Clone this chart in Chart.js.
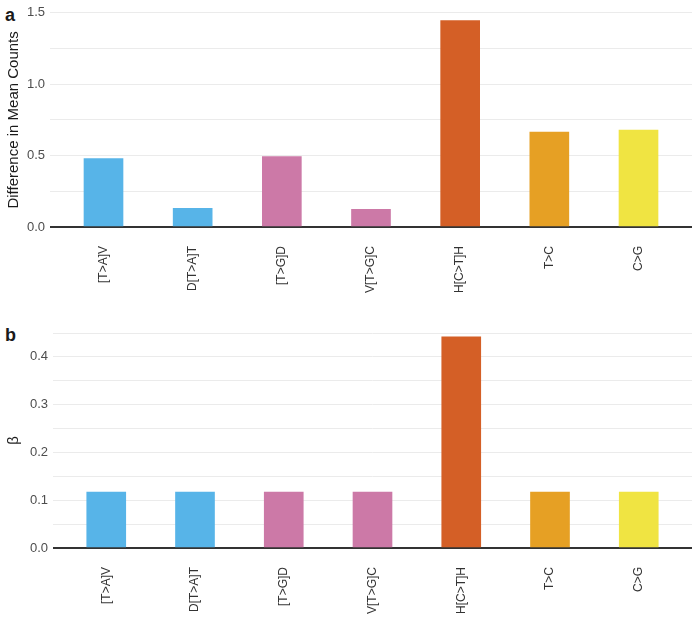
<!DOCTYPE html>
<html>
<head>
<meta charset="utf-8">
<script src="https://cdn.jsdelivr.net/npm/chart.js@4"></script>
<style>
  body { margin: 0; width: 700px; height: 621px; background: #fff; position: relative; font-family: 'Liberation Sans', Arial, sans-serif; }
  .panel { position: absolute; left: 0; width: 700px; }
  .tag { position: absolute; left: 5px; font-size: 18px; font-weight: bold; color: #1a1a1a; line-height: 1; }
</style>
</head>
<body>
<div class="tag" style="top:6px">a</div>
<div class="tag" style="top:326px">b</div>
<div class="panel" style="top:0;height:300px"><canvas id="chart-a"></canvas></div>
<div class="panel" style="top:310px;height:311px"><canvas id="chart-b"></canvas></div>
<script>
// categories (mutation types)
const cats = ['[T>A]V', 'D[T>A]T', '[T>G]D', 'V[T>G]C', 'H[C>T]H', 'T>C', 'C>G'];
const colors = ['#57B4E8', '#57B4E8', '#CC79A7', '#CC79A7', '#D45F26', '#E6A024', '#F0E442'];

// panel a: difference in mean counts
const meanDiff = [0.48, 0.13, 0.493, 0.123, 1.445, 0.664, 0.678];
// panel b: beta
const beta = [0.117, 0.117, 0.117, 0.117, 0.442, 0.117, 0.117];

const font = "'Liberation Sans', Arial, sans-serif";

const makeChart = (id, values, yTitle, yMax, step, labelStep, leftWidth, pad) => {
  new Chart(document.getElementById(id), {
    type: 'bar',
    data: {
      datasets: [
        {
          data: values.map((v, i) => ({ x: i, y: v })),
          backgroundColor: colors,
          barThickness: 39,
        },
      ],
    },
    options: {
      responsive: true,
      maintainAspectRatio: false,
      animation: false,
      layout: { padding: pad },
      plugins: { legend: { display: false }, tooltip: { enabled: false } },
      scales: {
        x: {
          type: 'linear',
          min: -0.6,
          max: 6.6,
          offset: false,
          grid: { display: false, drawTicks: false },
          border: { display: false },
          afterBuildTicks: (axis) => {
            axis.ticks = cats.map((c, i) => ({ value: i }));
          },
          afterFit: (axis) => {
            axis.height = 70;
          },
          ticks: {
            autoSkip: false,
            maxRotation: 90,
            minRotation: 90,
            padding: 19,
            color: '#333',
            font: { family: font, size: 12 },
            callback: (v) => cats[v],
          },
        },
        y: {
          min: 0,
          max: yMax,
          border: { display: false },
          afterFit: (axis) => {
            axis.width = leftWidth;
          },
          grid: {
            drawTicks: false,
            color: (ctx) => (ctx.tick && ctx.tick.value === 0 ? '#333' : '#ebebeb'),
            lineWidth: (ctx) => (ctx.tick && ctx.tick.value === 0 ? 2 : 1),
          },
          ticks: {
            stepSize: step,
            padding: 5,
            color: '#4d4d4d',
            font: { family: font, size: 13 },
            callback: (v) => (Math.round(v * 100) % Math.round(labelStep * 100) === 0 ? v.toFixed(1) : ''),
          },
          title: {
            display: true,
            text: yTitle,
            color: '#1a1a1a',
            padding: { top: 5, bottom: 0 },
            font: { family: font, size: 15 },
          },
        },
      },
    },
  });
};

makeChart('chart-a', meanDiff, 'Difference in Mean Counts', 1.5, 0.25, 0.5, 50, { top: 9, right: 8, bottom: 3, left: 0 });
makeChart('chart-b', beta, 'β', 0.45, 0.05, 0.1, 53, { top: 23, right: 8, bottom: 3, left: 0 });
</script>
</body>
</html>
